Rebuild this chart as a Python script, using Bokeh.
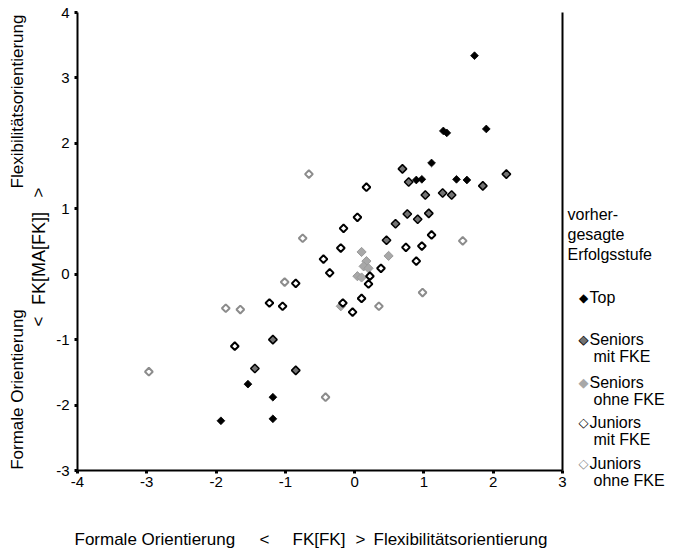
import math
from bokeh.plotting import figure
from bokeh.models import Range1d, FixedTicker, LinearAxis
from bokeh.core.properties import value
from bokeh.embed import file_html
from bokeh.resources import INLINE

# ---- data ----
top_x = [1.73, 1.90, 1.28, 1.33, 1.11, 0.89, 0.97, 1.47, 1.62, -1.54, -1.18, -1.18, -1.93]
top_y = [3.34, 2.22, 2.19, 2.16, 1.70, 1.44, 1.45, 1.45, 1.44, -1.68, -1.88, -2.21, -2.24]

sen_mit_x = [0.69, 0.78, 1.02, 1.27, 1.40, 1.85, 2.19, 0.76, 0.91, 1.07, 0.59, 0.46, -1.18, -1.44, -0.85]
sen_mit_y = [1.61, 1.41, 1.21, 1.24, 1.21, 1.35, 1.53, 0.92, 0.84, 0.93, 0.77, 0.52, -1.00, -1.44, -1.47]

sen_ohne_x = [0.10, 0.17, 0.13, 0.20, 0.04, 0.10, 0.49, -0.20]
sen_ohne_y = [0.34, 0.20, 0.12, 0.09, -0.03, -0.05, 0.28, -0.49]

jun_mit_x = [0.17, 0.04, -0.16, -0.20, -0.45, -0.36, 0.38, 0.22, 0.20, 0.10, -0.03, -0.17,
             0.74, 0.89, 0.97, 1.11, -0.85, -1.23, -1.04, -1.73]
jun_mit_y = [1.33, 0.87, 0.70, 0.40, 0.23, 0.02, 0.09, -0.03, -0.15, -0.37, -0.58, -0.44,
             0.41, 0.20, 0.43, 0.60, -0.14, -0.44, -0.49, -1.10]

jun_ohne_x = [-0.66, -0.75, -1.01, -1.86, -1.65, -0.42, 0.35, 1.56, 0.98, -2.97]
jun_ohne_y = [1.53, 0.55, -0.12, -0.52, -0.54, -1.88, -0.49, 0.51, -0.28, -1.49]

x_ticks = [-4, -3, -2, -1, 0, 1, 2, 3]
y_ticks = [-3, -2, -1, 0, 1, 2, 3, 4]

legend_title = ["vorher-", "gesagte", "Erfolgsstufe"]
legend_line1 = ["Top", "Seniors", "Seniors", "Juniors", "Juniors"]
legend_line2 = ["", "mit FKE", "ohne FKE", "mit FKE", "ohne FKE"]

x_title_parts = ["Formale Orientierung", "<", "FK[FK]", ">", "Flexibilitätsorientierung"]
y_title_parts = ["Formale Orientierung", "<", "FK[MA[FK]]", ">", "Flexibilitätsorientierung"]

FONT = "Liberation Sans"
W, H = 667, 549
ML, MR, MT, MB = 77, 105, 12, 79
XMIN, XMAX, YMIN, YMAX = -4, 3, -3, 4

p = figure(width=W, height=H, output_backend="svg", toolbar_location=None,
           x_range=Range1d(XMIN, XMAX), y_range=Range1d(YMIN, YMAX),
           min_border_left=ML, min_border_right=MR, min_border_top=MT, min_border_bottom=MB,
           background_fill_color="white", border_fill_color="white")
p.outline_line_color = None
p.xgrid.visible = False
p.ygrid.visible = False

for ax, ticks in ((p.xaxis[0], x_ticks), (p.yaxis[0], y_ticks)):
    ax.ticker = FixedTicker(ticks=ticks)
    ax.major_label_overrides = {t: str(t) for t in ticks}
    ax.axis_line_width = 2
    ax.axis_line_color = "black"
    ax.major_tick_in = 0
    ax.major_tick_out = 3
    ax.major_tick_line_width = 3
    ax.major_tick_line_color = "black"
    ax.minor_tick_line_color = None
    ax.major_label_text_font = FONT
    ax.major_label_text_font_size = "15px"
    ax.major_label_text_color = "black"
p.xaxis.major_label_standoff = 3
p.yaxis.major_label_standoff = 5

right_ax = LinearAxis(ticker=FixedTicker(ticks=[]), axis_line_width=2, axis_line_color="black",
                      major_tick_line_color=None, minor_tick_line_color=None,
                      major_label_text_font_size="0px")
p.add_layout(right_ax, "right")

ang = math.pi / 4
STY = {
    "top": dict(size=5.5, fill_color="black", line_color="black", line_width=0.8),
    "sen_mit": dict(size=6, fill_color="#737373", line_color="black", line_width=1.5),
    "sen_ohne": dict(size=6.5, fill_color="#a8a8a8", line_color="#9a9a9a", line_width=1),
    "jun_mit": dict(size=5.5, fill_color="white", line_color="black", line_width=2),
    "jun_ohne": dict(size=5.5, fill_color="white", line_color="#8c8c8c", line_width=2),
}
p.scatter(sen_ohne_x, sen_ohne_y, marker="square", angle=ang, **STY["sen_ohne"])
p.scatter(jun_ohne_x, jun_ohne_y, marker="square", angle=ang, **STY["jun_ohne"])
p.scatter(jun_mit_x, jun_mit_y, marker="square", angle=ang, **STY["jun_mit"])
p.scatter(sen_mit_x, sen_mit_y, marker="square", angle=ang, **STY["sen_mit"])
p.scatter(top_x, top_y, marker="square", angle=ang, **STY["top"])

# canvas-pixel -> data helpers (for text placed outside the frame)
def dx(px):
    return XMIN + (px - ML) * (XMAX - XMIN) / (W - ML - MR)

def dy(py):
    return YMAX - (py - MT) * (YMAX - YMIN) / (H - MT - MB)

def txt(texts, pxs, pys, align="left", angle=0.0, size="17px", color="black", font=FONT):
    p.text(x=[dx(v) for v in pxs], y=[dy(v) for v in pys], text=texts,
           text_font=value(font), text_font_size=value(size), text_color=color,
           text_align=align, text_baseline="middle", angle=angle, level="overlay")

# x-axis title
TY = 539
txt([x_title_parts[0], x_title_parts[2], x_title_parts[4]], [74, 292, 373], [TY] * 3)
txt([x_title_parts[1], x_title_parts[3]], [264, 360], [TY] * 2, align="center")

# y-axis title (rotated)
rot = math.pi / 2
txt([y_title_parts[0], y_title_parts[4]], [17, 17], [389, 101], align="center", angle=rot)
txt([y_title_parts[1], y_title_parts[3]], [38, 38], [321, 192], align="center", angle=rot)
txt([y_title_parts[2]], [38], [258], align="center", angle=rot, size="18px")

# legend
LS = "16px"
txt(legend_title, [567] * 3, [214, 234, 254], size=LS)
item_y = [297, 339, 382, 422, 463]
MX = 583
txt(["\u25C6"], [MX], [item_y[0]], align="center", size="12px", font="DejaVu Sans")
txt(["\u25C6"], [MX], [item_y[1]], align="center", size="13px", color="#737373", font="DejaVu Sans")
txt(["\u25C7"], [MX], [item_y[1]], align="center", size="13px", font="DejaVu Sans")
txt(["\u25C6"], [MX], [item_y[2]], align="center", size="13px", color="#a8a8a8", font="DejaVu Sans")
txt(["\u25C7"], [MX], [item_y[3]], align="center", size="13px", font="DejaVu Sans")
txt(["\u25C7"], [MX], [item_y[4]], align="center", size="13px", color="#8c8c8c", font="DejaVu Sans")
txt(legend_line1, [589] * 5, item_y, size=LS)
l2 = [(t, py + 17) for t, py in zip(legend_line2, item_y) if t]
txt([t for t, _ in l2], [593] * len(l2), [v for _, v in l2], size=LS)

open("out.html", "w").write(file_html(p, INLINE))
